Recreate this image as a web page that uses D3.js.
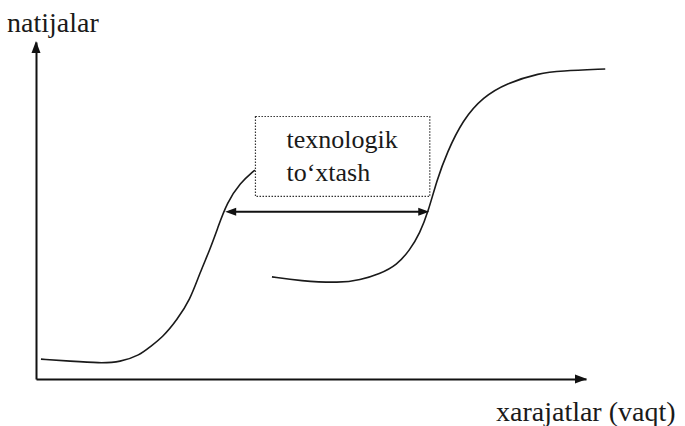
<!DOCTYPE html>
<html>
<head>
<meta charset="utf-8">
<script src="https://cdn.jsdelivr.net/npm/d3@7"></script>
<style>
  body { margin: 0; background: #fff; }
  .lbl { font-family: 'Liberation Serif'; fill: #1a1a1a; }
</style>
</head>
<body>
<div id="chart"></div>
<script>
// old technology curve (x = costs/time, y = results), 0..100 units
var oldX = [0.9, 6.2, 11.6, 15.3, 18.9, 20.7, 23.1, 25.6, 28.0, 29.8, 31.6, 33.1, 34.7, 37.1, 39.8];
var oldY = [5.9, 5.3, 4.7, 5.0, 7.1, 9.5, 12.5, 17.5, 23.4, 31.5, 38.3, 45.1, 52.2, 58.2, 62.0];
// new technology curve
var newX = [42.9, 48.0, 55.3, 58.9, 62.5, 65.6, 68.0, 69.8, 71.3, 72.9, 74.7, 77.6, 81.3, 85.6, 91.6, 95.3, 103.5];
var newY = [30.3, 29.1, 28.5, 29.4, 31.2, 33.8, 38.3, 43.3, 49.6, 59.1, 67.1, 76.9, 83.7, 87.8, 90.8, 91.4, 92.0];
// technology gap: arrow span and label box (data units)
var gapX = [34.4, 71.5];
var gapY = [49.6];
var boxX = [39.9, 71.6];
var boxY = [54.2, 77.9];
var boxLines = ["texnologik", "to\u2018xtash"];
var xLabel = "xarajatlar (vaqt)";
var yLabel = "natijalar";

var width = 685, height = 426;

var svg = d3.select("#chart").append("svg")
    .attr("width", width)
    .attr("height", height)
    .style("font-family", "'Liberation Serif'");

var x = d3.scaleLinear().domain([0, 100]).range([36, 586]);
var y = d3.scaleLinear().domain([0, 100]).range([379, 42]);

// labels first
svg.append("text")
    .attr("class", "lbl")
    .attr("x", 7).attr("y", 32)
    .attr("font-size", 28)
    .text(yLabel);
svg.append("text")
    .attr("class", "lbl")
    .attr("x", 496).attr("y", 421)
    .attr("font-size", 28)
    .text(xLabel);

// axes without ticks
var xAxis = d3.axisBottom(x).tickValues([]).tickSizeOuter(0);
var yAxis = d3.axisLeft(y).tickValues([]).tickSizeOuter(0);

var gx = svg.append("g")
    .attr("transform", "translate(0," + y(0) + ")")
    .call(xAxis);
var gy = svg.append("g")
    .attr("transform", "translate(" + x(0) + ",0)")
    .call(yAxis);
[gx, gy].forEach(function(g) {
    g.attr("font-family", null).attr("font-size", null);
    g.select(".domain").attr("stroke", "#111").attr("stroke-width", 2);
});

function head(px, py, dir, len, half) {
    // dir: "up", "right", "left"
    var pts;
    if (dir == "up") pts = [[px, py], [px - half, py + len], [px + half, py + len]];
    if (dir == "right") pts = [[px, py], [px - len, py - half], [px - len, py + half]];
    if (dir == "left") pts = [[px, py], [px + len, py - half], [px + len, py + half]];
    svg.append("path")
        .attr("d", "M" + pts.map(function(p) { return p.join(","); }).join("L") + "Z")
        .attr("fill", "#111");
}
head(x(0), y(100) - 1, "up", 12, 4.5);
head(x(100) + 1, y(0), "right", 12, 4.5);

// curves
var line = d3.line()
    .x(function(d) { return x(d[0]); })
    .y(function(d) { return y(d[1]); })
    .curve(d3.curveBasis);

var oldData = oldX.map(function(v, i) { return [v, oldY[i]]; });
var newData = newX.map(function(v, i) { return [v, newY[i]]; });

svg.selectAll(".curve")
    .data([oldData, newData])
    .enter().append("path")
    .attr("class", "curve")
    .attr("d", line)
    .attr("fill", "none")
    .attr("stroke", "#1a1a1a")
    .attr("stroke-width", 1.6);

// gap box
svg.append("rect")
    .attr("x", x(boxX[0]))
    .attr("y", y(boxY[1]))
    .attr("width", x(boxX[1]) - x(boxX[0]))
    .attr("height", y(boxY[0]) - y(boxY[1]))
    .attr("fill", "none")
    .attr("stroke", "#333")
    .attr("stroke-width", 1.2)
    .attr("stroke-dasharray", "1.5,1.5");

svg.selectAll(".boxtext")
    .data(boxLines)
    .enter().append("text")
    .attr("class", "boxtext lbl")
    .attr("x", x(boxX[0]) + 31)
    .attr("y", function(d, i) { return y(boxY[1]) + 32 + i * 33; })
    .attr("font-size", 26)
    .text(function(d) { return d; });

// double arrow
svg.append("line")
    .attr("x1", x(gapX[0]) + 4).attr("x2", x(gapX[1]) - 4)
    .attr("y1", y(gapY[0])).attr("y2", y(gapY[0]))
    .attr("stroke", "#111").attr("stroke-width", 2);
head(x(gapX[0]), y(gapY[0]), "left", 11, 4);
head(x(gapX[1]), y(gapY[0]), "right", 11, 4);
</script>
</body>
</html>
